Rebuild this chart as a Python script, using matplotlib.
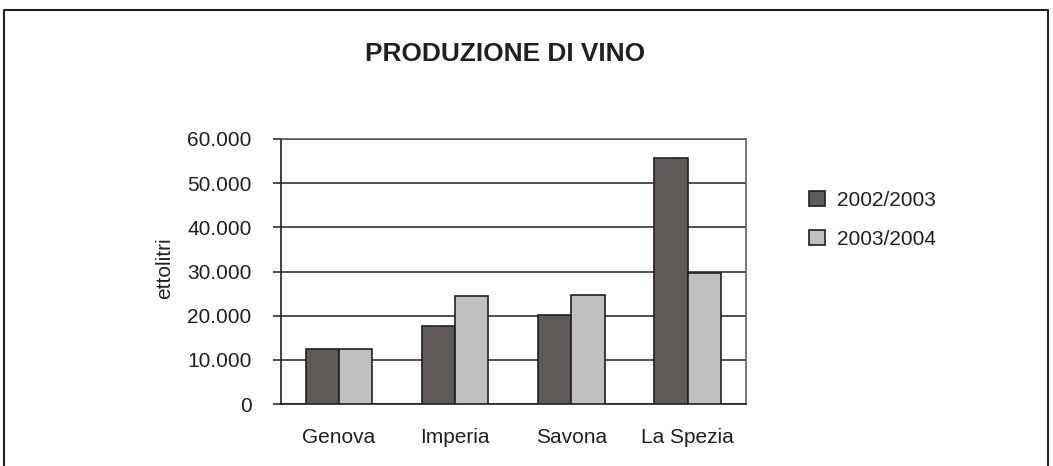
import matplotlib
matplotlib.use("Agg")
import matplotlib.pyplot as plt
import numpy as np
from matplotlib.ticker import FuncFormatter, MultipleLocator

plt.rcParams['font.family'] = ['Liberation Sans', 'DejaVu Sans']

categories = ["Genova", "Imperia", "Savona", "La Spezia"]
series_names = ["2002/2003", "2003/2004"]
values_2002_2003 = [12500, 17650, 20050, 55650]
values_2003_2004 = [12500, 24350, 24600, 29700]
title = "PRODUZIONE DI VINO"
ylabel = "ettolitri"

W, H, DPI = 1053, 466, 100
fig = plt.figure(figsize=(W / DPI, H / DPI), dpi=DPI)
fig.patch.set_facecolor("white")

def px(x, y):
    return x / W, 1 - y / H

left, top = px(281, 139)
right, bottom = px(745.7, 404)
ax = fig.add_axes([left, bottom, right - left, top - bottom])

txt_color = "#231f20"
fs = 15
x = np.arange(len(categories))
bw = 1 / 3.5
colors = ["#5f5a58", "#c0c0c0"]
ax.bar(x - bw / 2, values_2002_2003, width=bw, color=colors[0], edgecolor="#231f20",
       linewidth=1.2, label=series_names[0], zorder=3)
ax.bar(x + bw / 2, values_2003_2004, width=bw, color=colors[1], edgecolor="#231f20",
       linewidth=1.2, label=series_names[1], zorder=3)

ax.set_xlim(-0.5, len(categories) - 0.5)
ax.set_ylim(0, 60000)
ax.yaxis.set_major_locator(MultipleLocator(10000))
ax.yaxis.set_major_formatter(FuncFormatter(lambda v, p: f"{v:,.0f}".replace(",", ".")))
ax.grid(axis="y", color="#231f20", linewidth=1.1, zorder=0)
ax.set_xticks(x)
ax.set_xticklabels(categories)
ax.tick_params(axis="x", length=0, pad=17.4, labelsize=fs, labelcolor=txt_color)
ax.tick_params(axis="y", length=5.8, width=1.1, color="#231f20", pad=15.3,
               labelsize=fs, labelcolor=txt_color)
for s in ["top", "right"]:
    ax.spines[s].set_color("#555555")
    ax.spines[s].set_linewidth(1.1)
for s in ["left", "bottom"]:
    ax.spines[s].set_color("#231f20")
    ax.spines[s].set_linewidth(1.2)

# outer frame (open at bottom, cropped)
fx0, fy0 = px(4.3, 10)
fx1, _ = px(1048, 10)
fig.add_artist(plt.Line2D([fx0, fx0, fx1, fx1], [-0.05, fy0, fy0, -0.05],
                          transform=fig.transFigure, color="#231f20", linewidth=1.5))

tx, ty = px(505, 54)
fig.text(tx, ty, title, ha="center", va="center", fontsize=18.9, fontweight="bold",
         color=txt_color)
lx, ly = px(165, 268)
fig.text(lx, ly, ylabel, ha="center", va="center", rotation=90, fontsize=fs, color=txt_color)

gx, gy = px(809, 191)
leg = fig.legend(loc="upper left", bbox_to_anchor=(gx, gy), bbox_transform=fig.transFigure,
                 frameon=False, fontsize=fs, handlelength=0.78, handleheight=0.73,
                 handletextpad=0.58, labelspacing=0.94, borderpad=0, borderaxespad=0)
for t in leg.get_texts():
    t.set_color(txt_color)

fig.savefig("out.png", dpi=DPI)
